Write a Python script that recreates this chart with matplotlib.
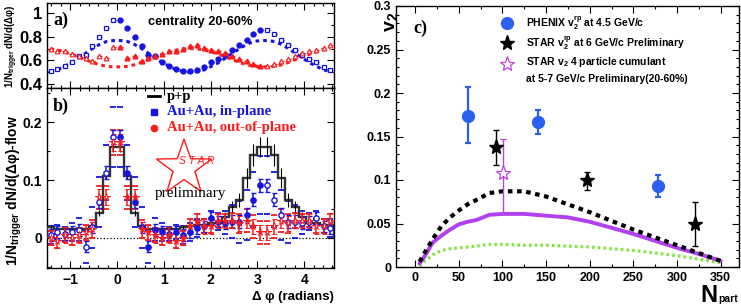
import numpy as np
import matplotlib
matplotlib.use('Agg')
import matplotlib.pyplot as plt
from matplotlib.ticker import MultipleLocator
from matplotlib.patches import Polygon

plt.rcParams['font.family'] = ['Liberation Sans', 'DejaVu Sans']
plt.rcParams['font.weight'] = 'bold'
plt.rcParams['mathtext.fontset'] = 'custom'
plt.rcParams['mathtext.rm'] = 'Liberation Sans:bold'
plt.rcParams['mathtext.it'] = 'Liberation Sans:bold'
plt.rcParams['mathtext.bf'] = 'Liberation Sans:bold'

W, H = 741, 307
BLUE = '#1414e6'
RED = '#ff1a1a'

# ---- panels a) and b): values for the 21 bins in [0, pi]; the rest are reflections
# panel a, raw correlations
a_blue = [0.943, 0.873, 0.797, 0.718, 0.645, 0.634, 0.590, 0.556, 0.530, 0.510, 0.510,
          0.522, 0.540, 0.584, 0.608, 0.646, 0.688, 0.728, 0.775, 0.826, 0.859]
a_red = [0.710, 0.620, 0.633, 0.598, 0.616, 0.635, 0.652, 0.677, 0.683, 0.697, 0.720,
         0.727, 0.708, 0.692, 0.682, 0.660, 0.636, 0.608, 0.593, 0.570, 0.555]
a_err = [0.010, 0.009, 0.009, 0.008, 0.008, 0.008, 0.008, 0.008, 0.008, 0.008, 0.008,
         0.008, 0.008, 0.008, 0.008, 0.008, 0.008, 0.008, 0.009, 0.009, 0.009]
flow_blue = [0.768, 0.760, 0.735, 0.700, 0.660, 0.620, 0.580, 0.550, 0.520, 0.505, 0.500,
             0.505, 0.520, 0.550, 0.580, 0.620, 0.660, 0.700, 0.735, 0.760, 0.768]
flow_red = [0.545, 0.550, 0.563, 0.583, 0.606, 0.630, 0.652, 0.672, 0.688, 0.697, 0.700,
            0.697, 0.688, 0.672, 0.652, 0.630, 0.606, 0.583, 0.563, 0.550, 0.545]

# panel b, flow subtracted
b_blue = [0.175, 0.113, 0.062, 0.018, -0.015, 0.014, 0.010, 0.006, 0.010, 0.005, 0.010,
          0.017, 0.020, 0.034, 0.028, 0.026, 0.028, 0.028, 0.040, 0.066, 0.091]
b_blue_err = [0.012, 0.011, 0.011, 0.010, 0.010, 0.010, 0.010, 0.010, 0.010, 0.010, 0.010,
              0.010, 0.010, 0.010, 0.010, 0.010, 0.011, 0.011, 0.011, 0.011, 0.011]
b_blue_sys = [0.052, 0.048, 0.043, 0.036, 0.028, 0.020, 0.015, 0.012, 0.012, 0.015, 0.015,
              0.015, 0.012, 0.012, 0.015, 0.020, 0.028, 0.036, 0.043, 0.048, 0.050]
b_red = [0.165, 0.070, 0.070, 0.015, 0.010, 0.005, 0.000, 0.005, -0.005, 0.000, 0.020,
         0.030, 0.020, 0.020, 0.030, 0.030, 0.030, 0.025, 0.030, 0.020, 0.010]
b_red_err = [0.014, 0.014, 0.014, 0.013, 0.013, 0.013, 0.013, 0.013, 0.013, 0.013, 0.013,
             0.013, 0.013, 0.013, 0.013, 0.013, 0.013, 0.013, 0.013, 0.013, 0.013]
b_red_sys = [0.022, 0.020, 0.020, 0.016, 0.013, 0.012, 0.012, 0.012, 0.012, 0.012, 0.012,
             0.012, 0.012, 0.012, 0.012, 0.012, 0.013, 0.016, 0.020, 0.020, 0.020]
pp = [0.157, 0.107, 0.043, 0.020, 0.015, 0.015, 0.015, 0.015, 0.015, 0.018, 0.020,
      0.022, 0.022, 0.025, 0.025, 0.036, 0.054, 0.066, 0.103, 0.143, 0.157]
pp_err = [0.008, 0.006, 0.005, 0.004, 0.004, 0.004, 0.004, 0.004, 0.004, 0.004, 0.004,
          0.005, 0.005, 0.006, 0.006, 0.008, 0.010, 0.012, 0.017, 0.019, 0.018]

# ---- panel c) v2 vs Npart
phenix_npart = [60, 141, 278]
phenix_v2 = [0.174, 0.167, 0.093]
phenix_lo = [0.142, 0.153, 0.081]
phenix_hi = [0.207, 0.181, 0.106]
star_npart = [93, 197, 321]
star_v2 = [0.138, 0.100, 0.049]
star_lo = [0.117, 0.089, 0.024]
star_hi = [0.158, 0.109, 0.075]
cum_npart = [101]
cum_v2 = [0.108]
cum_lo = [0.062]
cum_hi = [0.147]
curve_npart = [5, 10, 20, 30, 40, 50, 60, 70, 85, 100, 125, 150, 175, 200, 225, 250, 275, 300, 325, 350]
curve_black = [0.006, 0.015, 0.032, 0.047, 0.057, 0.065, 0.072, 0.077, 0.085, 0.087, 0.087,
               0.081, 0.072, 0.063, 0.053, 0.043, 0.034, 0.025, 0.016, 0.007]
curve_violet = [0.004, 0.011, 0.028, 0.036, 0.043, 0.049, 0.052, 0.054, 0.060, 0.061, 0.061,
                0.059, 0.057, 0.052, 0.045, 0.038, 0.030, 0.022, 0.015, 0.007]
curve_green = [0.001, 0.006, 0.014, 0.019, 0.021, 0.022, 0.023, 0.024, 0.026, 0.026, 0.025,
               0.025, 0.024, 0.023, 0.021, 0.019, 0.016, 0.013, 0.009, 0.005]

# bins of width pi/21, from -10 to 31 bin widths
w = np.pi / 21
bin_idx = np.arange(-10, 31)
centers = (bin_idx + 0.5) * w
edges = np.arange(-10, 32) * w
mirror = np.where(bin_idx < 0, -bin_idx - 1, np.where(bin_idx > 20, 41 - bin_idx, bin_idx))
refl = (bin_idx < 0) | (bin_idx > 20)
meas = ~refl


def full(half):
    return np.asarray(half)[mirror]


def fx(px):
    return px / W


def fy(py):
    return 1 - py / H


fig = plt.figure(figsize=(W / 100, H / 100), dpi=100)
ax_a = fig.add_axes([fx(47), fy(88), fx(334) - fx(47), fy(3) - fy(88)])
ax_b = fig.add_axes([fx(47), fy(268), fx(334) - fx(47), fy(88) - fy(268)])
ax_c = fig.add_axes([fx(396), fy(267), fx(739) - fx(396), fy(6) - fy(267)])

for ax in (ax_a, ax_b, ax_c):
    ax.tick_params(which='both', direction='in', top=True, right=True, width=0.8)
    ax.tick_params(which='major', length=5)
    ax.tick_params(which='minor', length=2.5)
    for s in ax.spines.values():
        s.set_linewidth(1.0)

# ---------- a)
ya, ra, ea = full(a_blue), full(a_red), full(a_err)
ax_a.plot(centers, full(flow_blue), color=BLUE, lw=2.2, dashes=(1.2, 1.3))
ax_a.plot(centers, full(flow_red), color=RED, lw=2.2, dashes=(1.2, 1.3))
ax_a.errorbar(centers[meas], ya[meas], yerr=ea[meas], xerr=w * 0.35, fmt='o', ms=3.5,
              color=BLUE, elinewidth=1, capsize=0)
ax_a.errorbar(centers[refl], ya[refl], yerr=ea[refl], xerr=w * 0.35, fmt='s', ms=3.2,
              color=BLUE, mfc='white', mew=0.9, elinewidth=1, capsize=0)
ax_a.errorbar(centers[meas], ra[meas], yerr=ea[meas], xerr=w * 0.35, fmt='^', ms=3.4,
              color=RED, elinewidth=1, capsize=0)
ax_a.errorbar(centers[refl], ra[refl], yerr=ea[refl], xerr=w * 0.35, fmt='^', ms=3.4,
              color=RED, mfc='white', mew=0.8, elinewidth=1, capsize=0)
ax_a.set_xlim(edges[0], edges[-1])
ax_a.set_ylim(0.366, 1.086)
ax_a.xaxis.set_major_locator(MultipleLocator(1))
ax_a.xaxis.set_minor_locator(MultipleLocator(0.2))
ax_a.yaxis.set_major_locator(MultipleLocator(0.2))
ax_a.yaxis.set_minor_locator(MultipleLocator(0.1))
ax_a.set_xticklabels([])
ax_a.tick_params(axis='y', labelsize=12)
ax_a.set_yticks([0.4, 0.6, 0.8, 1.0], ['0.4', '0.6', '0.8', '1'])

# ---------- b)
bb, rb = full(b_blue), full(b_red)
ax_b.axhline(0, color='k', ls=':', lw=0.9)
for vals, sys, col in ((bb, full(b_blue_sys), BLUE), (rb, full(b_red_sys), RED)):
    ax_b.plot(centers, vals + sys, '_', color=col, ms=4.5, mew=1.3)
    ax_b.plot(centers, vals - sys, '_', color=col, ms=4.5, mew=1.3)
ax_b.stairs(full(pp), edges, color='#333333', lw=1.7, zorder=3)
ax_b.errorbar(centers, full(pp), yerr=full(pp_err), fmt='none', ecolor='k', elinewidth=0.8, zorder=3)
for sel, face in ((meas, None), (refl, 'white')):
    ax_b.errorbar(centers[sel], bb[sel], yerr=full(b_blue_err)[sel], fmt='o', ms=3.8,
                  color=BLUE, mfc=face or BLUE, mew=1, elinewidth=1.1, capsize=1.8, zorder=4)
    ax_b.errorbar(centers[sel], rb[sel], yerr=full(b_red_err)[sel], fmt='*', ms=5.5,
                  color=RED, mfc=face or RED, mew=0.7, elinewidth=1.1, capsize=1.8, zorder=4)
ax_b.set_xlim(edges[0], edges[-1])
ax_b.set_ylim(-0.052, 0.259)
ax_b.xaxis.set_major_locator(MultipleLocator(1))
ax_b.xaxis.set_minor_locator(MultipleLocator(0.2))
ax_b.yaxis.set_major_locator(MultipleLocator(0.1))
ax_b.yaxis.set_minor_locator(MultipleLocator(0.05))
ax_b.set_yticks([0, 0.1, 0.2], ['0', '0.1', '0.2'])
ax_b.tick_params(labelsize=10)

# ---------- c)
ax_c.plot(curve_npart, curve_green, color='#7ee63a', lw=2.3, dashes=(0.8, 1.0))
ax_c.plot(curve_npart, curve_violet, color='#b040f0', lw=2.8, solid_capstyle='round')
ax_c.plot(curve_npart, curve_black, color='black', lw=3.0, dashes=(1.1, 1.1))
ax_c.errorbar(phenix_npart, phenix_v2,
              yerr=[np.subtract(phenix_v2, phenix_lo), np.subtract(phenix_hi, phenix_v2)],
              fmt='o', ms=8.5, color='#2a5ff0', elinewidth=1.6, capsize=2.5, capthick=1.6)
ax_c.errorbar(star_npart, star_v2,
              yerr=[np.subtract(star_v2, star_lo), np.subtract(star_hi, star_v2)],
              fmt='*', ms=11, color='black', elinewidth=1.0, capsize=2.5)
ax_c.errorbar(cum_npart, cum_v2,
              yerr=[np.subtract(cum_v2, cum_lo), np.subtract(cum_hi, cum_v2)],
              fmt='*', ms=11, color='#c040e0', mfc='white', mew=0.9, elinewidth=1.0, capsize=2.5)
ax_c.set_xlim(-22, 371)
ax_c.set_ylim(0, 0.3)
ax_c.xaxis.set_major_locator(MultipleLocator(50))
ax_c.xaxis.set_minor_locator(MultipleLocator(25))
ax_c.yaxis.set_major_locator(MultipleLocator(0.05))
ax_c.yaxis.set_minor_locator(MultipleLocator(0.01))
ax_c.set_xticks(range(0, 351, 50))
ax_c.set_yticks([0, 0.05, 0.1, 0.15, 0.2, 0.25, 0.3], ['0', '0.05', '0.1', '0.15', '0.2', '0.25', '0.3'])
ax_c.tick_params(labelsize=9)

# ---------- texts
serif = ['Liberation Serif', 'DejaVu Serif']
fig.text(fx(53), fy(20), 'a)', fontsize=13, family=serif, weight='bold', va='center')
fig.text(fx(252), fy(22), 'centrality 20-60%', fontsize=9.2, weight='bold', ha='right', va='center')
fig.text(fx(53), fy(106), 'b)', fontsize=13, family=serif, weight='bold', va='center')
fig.text(fx(413), fy(28), 'c)', fontsize=13, family=serif, weight='bold', va='center')

fig.text(fx(12), fy(46), r'1/N$_{\mathrm{trigger}}$ dN/d(Δφ)', rotation=90, fontsize=7,
         weight='bold', ha='center', va='center')
fig.text(fx(14), fy(190), r'1/N$_{\mathrm{trigger}}$ dN/d(Δφ)-flow', rotation=90, fontsize=10,
         weight='bold', ha='center', va='center')
fig.text(fx(334), fy(297), 'Δ φ (radians)', fontsize=9.5, weight='bold', ha='right', va='center')
fig.text(fx(718), fy(302), 'N', fontsize=17, weight='bold', ha='right', va='baseline')
fig.text(fx(718.5), fy(302), 'part', fontsize=7.5, weight='bold', ha='left', va='baseline')
fig.text(fx(391), fy(22), r'v$_2$', rotation=90, fontsize=14, weight='bold', ha='center', va='center')

# legend b)
fig.add_artist(plt.Line2D([fx(148), fx(160)], [fy(96), fy(96)], color='black', lw=2))
fig.add_artist(plt.Line2D([fx(154)], [fy(112)], marker='s', ms=4.5, color=BLUE, lw=0))
fig.add_artist(plt.Line2D([fx(154)], [fy(128)], marker='o', ms=4.5, color=RED, lw=0))
fig.text(fx(167), fy(97), 'p+p', fontsize=10.5, family=serif, weight='bold', va='center')
fig.text(fx(167), fy(112), 'Au+Au, in-plane', fontsize=10.5, family=serif, weight='bold',
         color=BLUE, va='center')
fig.text(fx(167), fy(128), 'Au+Au, out-of-plane', fontsize=10.5, family=serif, weight='bold',
         color=RED, va='center')

# STAR logo
ang = np.pi / 2 + np.arange(10) * np.pi / 5
rad = np.where(np.arange(10) % 2 == 0, 29, 11.5)
star_px = np.column_stack([184 + rad * np.cos(ang), 168 - rad * np.sin(ang)])
fig.add_artist(Polygon(np.column_stack([fx(star_px[:, 0]), fy(star_px[:, 1])]), closed=True,
                       fill=False, edgecolor=RED, lw=1.0, transform=fig.transFigure))
fig.text(fx(197), fy(161), 'S T A R', fontsize=7.5, style='italic', weight='normal',
         color=RED, ha='center', va='center')
fig.text(fx(190), fy(193), 'preliminary', fontsize=11, family=serif, weight='normal',
         ha='center', va='center')

# legend c)
fig.add_artist(plt.Line2D([fx(507)], [fy(23)], marker='o', ms=8.5, color='#2a5ff0', lw=0))
fig.add_artist(plt.Line2D([fx(507)], [fy(43)], marker='*', ms=11, color='black', lw=0))
fig.add_artist(plt.Line2D([fx(507)], [fy(64)], marker='*', ms=11, color='#c040e0', mfc='white',
                          mew=0.9, lw=0))
fig.text(fx(526), fy(23), r'PHENIX v$_2^{rp}$ at 4.5 GeV/c', fontsize=7.5, weight='bold', va='center')
fig.text(fx(526), fy(43), r'STAR v$_2^{rp}$ at 6 GeV/c Preliminary', fontsize=7.5, weight='bold',
         va='center')
fig.text(fx(526), fy(62), r'STAR v$_2$ 4 particle cumulant', fontsize=7.5, weight='bold', va='center')
fig.text(fx(526), fy(79), 'at 5-7 GeV/c Preliminary(20-60%)', fontsize=7.5, weight='bold', va='center')

fig.savefig('out.png', dpi=100)
